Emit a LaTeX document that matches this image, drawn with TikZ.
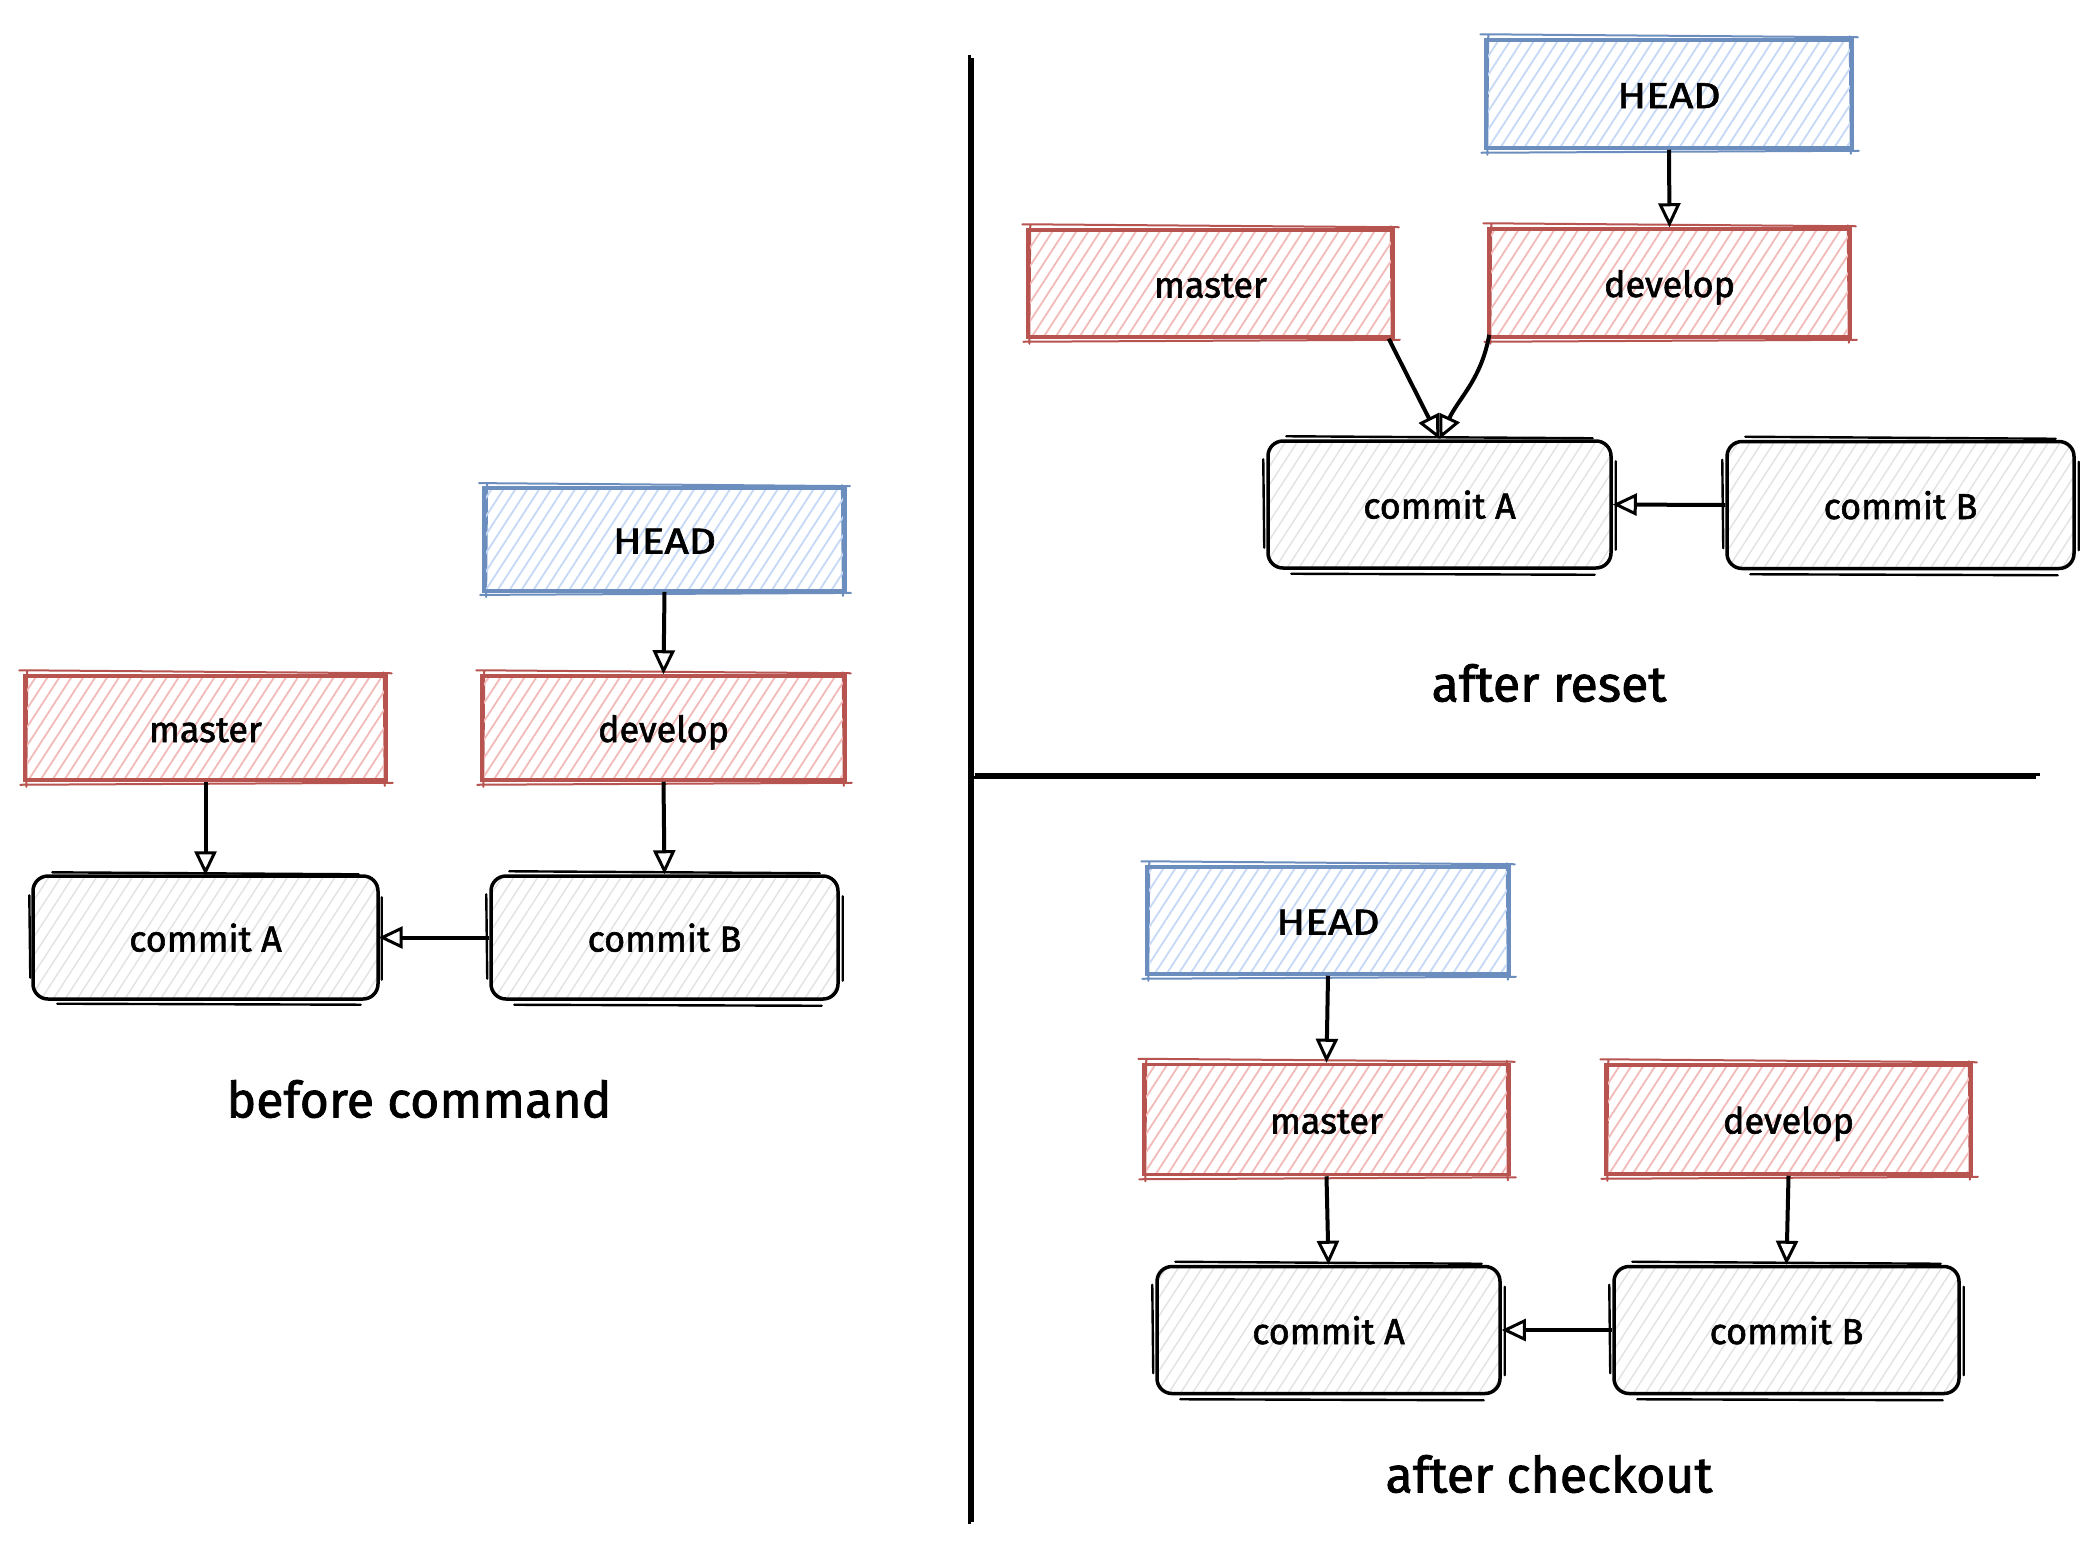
\documentclass[tikz,border=0pt]{standalone}
\usepackage{fontspec}
\setmainfont{Fira Sans}
\newfontfamily\lblfont{Fira Sans}[FakeBold=1.6]
\usetikzlibrary{arrows.meta,patterns.meta,calc}
\definecolor{bluestroke}{HTML}{6C8EBF}
\definecolor{bluehatch}{HTML}{C5D9F6}
\definecolor{redstroke}{HTML}{B85450}
\definecolor{redhatch}{HTML}{F2BAB8}
\definecolor{grayhatch}{HTML}{E2E2E2}
\newcommand{\headtext}{\scalebox{1.18}[1]{HEAD}}
\tikzset{
  box/.style={draw, line width=3.5pt, inner sep=0pt, anchor=center,
    text height=30pt, text depth=2pt,
    font=\lblfont\fontsize{36}{42}\selectfont},
  sketchsq/.style={append after command={\pgfextra{
    \draw[draw=#1, line width=2pt, line cap=round]
      ($(\tikzlastnode.north west)+(-4,-4)$) -- ($(\tikzlastnode.north east)+(4,-1)$)
      ($(\tikzlastnode.south west)+(-3,3)$) -- ($(\tikzlastnode.south east)+(5,1)$)
      ($(\tikzlastnode.north west)+(4,-3)$) -- ($(\tikzlastnode.south west)+(3,5)$)
      ($(\tikzlastnode.north east)+(-4,-2)$) -- ($(\tikzlastnode.south east)+(-3,4)$);
  }}},
  sketchrd/.style={append after command={\pgfextra{
    \draw[draw=black, line width=2.4pt, line cap=round]
      ($(\tikzlastnode.north west)+(20,-3)$) -- ($(\tikzlastnode.north east)+(-20,-1)$)
      ($(\tikzlastnode.south west)+(25,4)$) -- ($(\tikzlastnode.south east)+(-18,5)$)
      ($(\tikzlastnode.north west)+(-3,20)$) -- ($(\tikzlastnode.south west)+(-2,-22)$)
      ($(\tikzlastnode.north east)+(3,22)$) -- ($(\tikzlastnode.south east)+(3,-20)$);
  }}},
  headbox/.style={box, draw=bluestroke, pattern={Lines[angle=57,distance=10pt,line width=1.8pt]}, pattern color=bluehatch, sketchsq=bluestroke},
  branchbox/.style={box, draw=redstroke, pattern={Lines[angle=57,distance=10pt,line width=1.8pt]}, pattern color=redhatch, sketchsq=redstroke},
  commitbox/.style={box, draw=black, rounded corners=15pt, pattern={Lines[angle=57,distance=10pt,line width=1.4pt]}, pattern color=grayhatch, sketchrd},
  conn/.style={draw=black, line width=4pt, -{Triangle[open, length=24pt, width=22pt, line width=3pt]}},
  caption/.style={font=\lblfont\fontsize{50}{58}\selectfont, inner sep=0pt},
  divider/.style={draw=black, line width=2.4pt}
}
\begin{document}
\begin{tikzpicture}[x=1pt,y=-1pt]
\useasboundingbox (0,0) rectangle (2096,1540);
\fill[white] (0,0) rectangle (2096,1540);

% dividers (double sketched strokes)
\coordinate (vtop) at (969.5,55);
\coordinate (vbot) at (969.5,1524);
\coordinate (vtop2) at (972.5,58);
\coordinate (vbot2) at (972.5,1522);
\coordinate (hl) at (975,774.5);
\coordinate (hr) at (2040,774.5);
\coordinate (hl2) at (973,777.5);
\coordinate (hr2) at (2036,777.5);
\draw[divider] (vtop) -- (vbot);
\draw[divider] (vtop2) -- (vbot2);
\draw[divider] (hl) -- (hr);
\draw[divider] (hl2) -- (hr2);

% ---- before command ----
\node[headbox, minimum width=361pt, minimum height=103pt] (head1) at (664.5,539.5) {\headtext};
\node[branchbox, minimum width=361pt, minimum height=104pt] (master1) at (205.5,728) {master};
\node[branchbox, minimum width=363pt, minimum height=104pt] (develop1) at (663.5,728) {develop};
\node[commitbox, minimum width=345pt, minimum height=123pt] (cA1) at (205.5,937.5) {commit A};
\node[commitbox, minimum width=347pt, minimum height=123pt] (cB1) at (664.5,937.5) {commit B};
\node[caption] (t1) at (419,1099) {before command};
\draw[conn] (head1.south) -- (develop1.north);
\draw[conn] (master1.south) -- (cA1.north);
\draw[conn] (develop1.south) -- (cB1.north);
\draw[conn] (cB1.west) -- (cA1.east);

% ---- after reset ----
\node[headbox, minimum width=366pt, minimum height=108pt] (head2) at (1669,94) {\headtext};
\node[branchbox, minimum width=365pt, minimum height=107pt] (master2) at (1210.5,283.5) {master};
\node[branchbox, minimum width=361pt, minimum height=108pt] (develop2) at (1669.5,283) {develop};
\node[commitbox, minimum width=343pt, minimum height=127pt] (cA2) at (1439.5,504.5) {commit A};
\node[commitbox, minimum width=347pt, minimum height=127pt] (cB2) at (1900.5,505) {commit B};
\node[caption] (t2) at (1549,683) {after reset};
\draw[conn] (head2.south) -- (develop2.north);
\draw[conn] ($(master2.south east)+(-6,0)$) -- (cA2.north);
\draw[conn] ($(develop2.south west)+(2,-4)$) to[out=-100,in=65] (cA2.north);
\draw[conn] (cB2.west) -- (cA2.east);

% ---- after checkout ----
\node[headbox, minimum width=362pt, minimum height=107pt] (head3) at (1328,920.5) {\headtext};
\node[branchbox, minimum width=365pt, minimum height=110pt] (master3) at (1326.5,1119.5) {master};
\node[branchbox, minimum width=365pt, minimum height=109pt] (develop3) at (1788.5,1119.5) {develop};
\node[commitbox, minimum width=343pt, minimum height=127pt] (cA3) at (1328.5,1330) {commit A};
\node[commitbox, minimum width=345pt, minimum height=127pt] (cB3) at (1786.5,1330) {commit B};
\node[caption] (t3) at (1549,1474) {after checkout};
\draw[conn] (head3.south) -- (master3.north);
\draw[conn] (master3.south) -- (cA3.north);
\draw[conn] (develop3.south) -- (cB3.north);
\draw[conn] (cB3.west) -- (cA3.east);
\end{tikzpicture}
\end{document}
